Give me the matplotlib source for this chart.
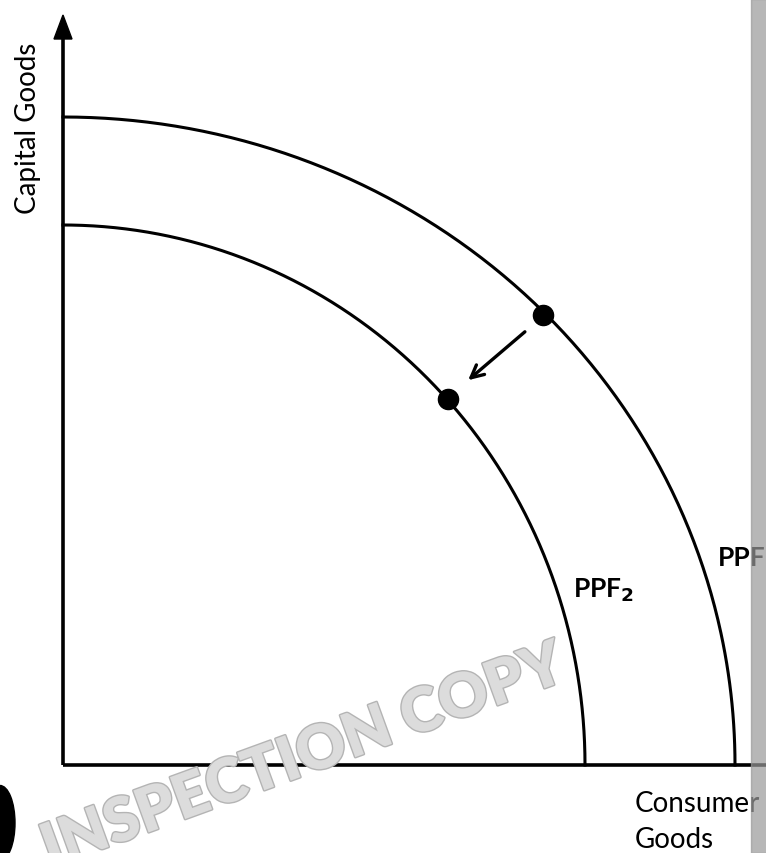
import numpy as np
import matplotlib.pyplot as plt
import matplotlib.patches as patches
import matplotlib.patheffects as pe

# frontier semi-axes (consumer, capital)
ppf1_ab = [672, 648]
ppf2_ab = [522, 540]
# points on the frontiers (shift inward)
start_pt = [480, 450]
end_pt = [385, 366]
labels = ['PPF', 'PPF$_\\mathbf{2}$']

W, H = 766, 854
X0, Y0 = 63, 766  # origin in pixels

fig = plt.figure(figsize=(W / 100, H / 100), dpi=100)
ax = fig.add_axes([0, 0, 1, 1])
ax.set_xlim(-X0, W - X0)
ax.set_ylim(-(H - Y0), Y0)
ax.axis('off')

font = 'Lato'

# axes
ax.plot([0, W - X0], [0, 0], color='black', lw=2.6, solid_capstyle='butt')
ax.plot([0, 0], [0, Y0 - 40], color='black', lw=2.6, solid_capstyle='butt')
ax.add_patch(patches.Polygon([[-9, Y0 - 40], [9, Y0 - 40], [0, Y0 - 16]],
                             closed=True, color='black'))

# frontiers
t = np.linspace(0, np.pi / 2, 300)
for a, b in [ppf1_ab, ppf2_ab]:
    ax.plot(a * np.cos(t), b * np.sin(t), color='black', lw=2.2)

# points and arrow
ax.plot([start_pt[0], end_pt[0]], [start_pt[1], end_pt[1]], 'o',
        color='black', ms=14.5)
ax.annotate('', xy=(end_pt[0] + 18, end_pt[1] + 17),
            xytext=(start_pt[0] - 16, start_pt[1] - 15),
            arrowprops=dict(arrowstyle='->,head_length=0.9,head_width=0.45',
                            lw=2.4, color='black'))

# labels
ax.text(655, 208, labels[0], fontsize=19, fontweight='bold', family=font,
        ha='left', va='center')
ax.text(510, 176, labels[1], fontsize=19, fontweight='bold', family=font,
        ha='left', va='center')
ax.text(-35, 638, 'Capital Goods', fontsize=20, family=font, rotation=90,
        ha='center', va='center')
ax.text(572, -38, 'Consumer', fontsize=20, family=font, ha='left', va='center')
ax.text(572, -74, 'Goods', fontsize=20, family=font, ha='left', va='center')

# watermark
ax.text(240, 8, 'INSPECTION COPY', fontsize=44, fontweight='heavy',
        family=font, rotation=20, ha='center', va='center', color='#dcdcdc',
        path_effects=[pe.withStroke(linewidth=2, foreground='#b4b4b4')])

# black blob at bottom left edge
ax.add_patch(patches.Ellipse((-63, -58), 30, 75, color='black'))

# gray strip at right edge
ax.add_patch(patches.Rectangle((751 - X0, -(H - Y0)), 20, H, color='#999999',
                               alpha=0.7, zorder=10))

fig.savefig('out.png', dpi=100)
